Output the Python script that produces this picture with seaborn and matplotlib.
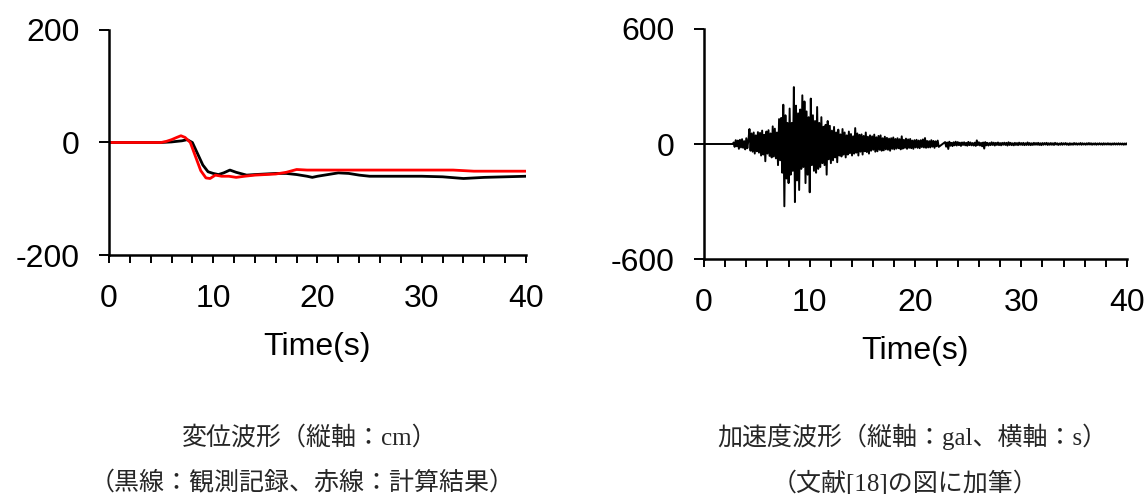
import numpy as np
import pandas as pd
import seaborn as sns
import matplotlib.pyplot as plt
from matplotlib.ticker import MultipleLocator

# Displacement waveform (cm)
disp_obs_t = [0, 5, 6, 7, 7.5, 8, 8.5, 9, 9.5, 10, 10.5, 11, 11.6, 12.2, 13.2, 14, 15, 16, 17,
              18, 19, 19.5, 20, 21, 22, 23, 24, 25, 27, 30, 32, 34, 36, 38, 40]
disp_obs = [0, 0, 1, 3, 5, 0, -20, -40, -52, -55, -57, -54, -49, -53, -58, -57, -56, -55, -55,
            -57, -60, -62, -60, -57, -54, -55, -58, -60, -60, -60, -61, -64, -62, -61, -60]
disp_calc_t = [0, 5, 5.5, 6, 6.5, 6.9, 7.3, 7.8, 8.3, 8.8, 9.3, 9.7, 10.2, 10.8, 11.5, 12.2, 13,
               14, 15, 16, 17, 18, 19, 20, 22, 25, 30, 33, 35, 40]
disp_calc = [0, 0, 2, 5, 9, 12, 9, 0, -25, -50, -63, -64, -58, -60, -60, -62, -60,
             -58, -57, -56, -53, -48, -49, -49, -49, -49, -49, -49, -51, -51]

# Acceleration record (gal): strong part sampled every 0.1 s from 2.8 s
acc1_t0, acc1_dt = 2.8, 0.1
acc1 = [8, -15, 20, -12, 18, -25, 22, -18, 25, -20, 15, -28, 30, -22, 20,
        78, -35, 55, -40, 60, -50, 45, -38, 62, -45,
        58, -60, 70, -55, 48, -90, 65, -50, 72, -62,
        55, -70, 92, -65, 80, -75, 60, -110, 130, -85,
        136, -150, 205, -325, 150, -180, 110, -204, 185, -160,
        110, -140, 297, -303, 200, -190, 160, -240, 180, -130,
        254, -120, 222, -204, 170, -160, 140, -252, 237, -110,
        150, -140, 120, -150, 193, -130, 110, -120, 140, -100,
        90, -110, 100, -160, 120, -80, 95, -100, 70, -85,
        89, -70, 60, -95, 75, -60, 50, -65, 78, -55,
        60, -70, 45, -55, 65, -48, 52, -60, 40, -50,
        83, -45, 55, -60, 48, -40, 50, -55, 42, -38,
        60, -42, 38, -50, 45, -35, 40, -30, 49, -40,
        35, -38, 42, -30, 45, -35, 30, -33, 38, -28,
        32, -30, 28, -35, 30, -25, 34, -28, 26, -24,
        30, -22, 25, -28, 40, -24, 22, -20, 28, -25,
        24, -20, 26, -22, 18, -25, 20, -18, 22, -20,
        18, -22, 20, -16, 24, -18, 31, -20, 16, -18,
        15, -18, 20, -14, 16, -20, 14, -12, 18, -15]
# tail sampled every 0.1 s as well
acc2_t0, acc2_dt = 22.8, 0.1
acc2 = [10, -14, 8, -26, 12, -9, 6, -11, 9, -7, 12, -8, 10, -6, 7, -10, 8, -5, 9, -7,
        6, -9, 11, -6, 8, -7, 5, -8, 7, -10, 19, -6, 9, -8, 6, -12, 8, -24, 10, -7,
        6, -8, 5, -6, 9, -5, 7, -8, 6, -5, 8, -6, 5, -7, 6, -4, 7, -5, 6, -8,
        9, -5, 6, -6, 4, -7, 6, -5, 5, -6, 7, -4, 5, -5, 6, -6, 4, -5, 8, -5,
        5, -6, 4, -5, 6, -4, 5, -4, 6, -5, 4, -6, 5, -4, 5, -3, 6, -5, 4, -4,
        5, -4, 4, -5, 6, -3, 4, -5, 3, -4, 5, -4, 4, -3, 5, -4, 3, -5, 4, -4,
        3, -4, 5, -3, 4, -4, 3, -3, 5, -4, 4, -3, 3, -4, 4, -3, 5, -3, 4, -4,
        3, -3, 4, -4, 3, -3, 4, -3, 3, -4, 4, -3, 3, -3, 4, -3, 3, -4, 3, -3,
        4, -3, 3, -3, 4, -3, 3, -3, 3, -4, 3, -3, 4, -3, 3, -3, 3]

acc_t = [0.0, acc1_t0 - 0.05] + [acc1_t0 + i * acc1_dt for i in range(len(acc1))] + \
        [acc2_t0 + i * acc2_dt for i in range(len(acc2))]
acc = [0, 0] + acc1 + acc2
acc_df = pd.DataFrame({'t': acc_t, 'a': acc})

sns.set_style('ticks')
plt.rcParams['font.family'] = ['Liberation Sans', 'DejaVu Sans']
plt.rcParams['axes.unicode_minus'] = False

fig = plt.figure(figsize=(11.46, 4.94), dpi=100)
ax1 = fig.add_axes([0.0951, 0.4838, 0.3639, 0.4555])
ax2 = fig.add_axes([0.6143, 0.4757, 0.3691, 0.4656])

sns.lineplot(x=disp_obs_t, y=disp_obs, ax=ax1, color='black', lw=2.0)
sns.lineplot(x=disp_calc_t, y=disp_calc, ax=ax1, color='#ff0000', lw=2.0)
sns.lineplot(data=acc_df, x='t', y='a', ax=ax2, color='black', lw=1.4)

for ax, lim, step in [(ax1, 200, 200), (ax2, 600, 600)]:
    ax.set_xlim(0, 40)
    ax.set_ylim(-lim, lim)
    ax.yaxis.set_major_locator(MultipleLocator(step))
    ax.xaxis.set_major_locator(MultipleLocator(10))
    ax.xaxis.set_minor_locator(MultipleLocator(2))
    sns.despine(ax=ax)
    for s in ['left', 'bottom']:
        ax.spines[s].set_linewidth(1.8)
        ax.spines[s].set_color('black')
    ax.tick_params(axis='y', which='major', length=7, width=1.4, direction='out',
                   labelsize=23, pad=14, colors='black')
    ax.tick_params(axis='x', which='both', length=6, width=1.4, direction='out',
                   labelsize=23, pad=15, colors='black')
    ax.set_xlabel('Time(s)', fontsize=23, labelpad=13, color='black')
    ax.set_ylabel('')

cap_font = ['Liberation Serif', 'Noto Sans CJK JP']
fig.text(0.270, 0.115, '変位波形（縦軸：cm）', ha='center', va='center', fontsize=18, family=cap_font)
fig.text(0.2635, 0.022, '（黒線：観測記録、赤線：計算結果）', ha='center', va='center', fontsize=18, family=cap_font)
fig.text(0.796, 0.115, '加速度波形（縦軸：gal、横軸：s）', ha='center', va='center', fontsize=18, family=cap_font)
fig.text(0.790, 0.022, '（文献[18]の図に加筆）', ha='center', va='center', fontsize=18, family=cap_font)

fig.savefig('out.png', dpi=100, facecolor='white')
